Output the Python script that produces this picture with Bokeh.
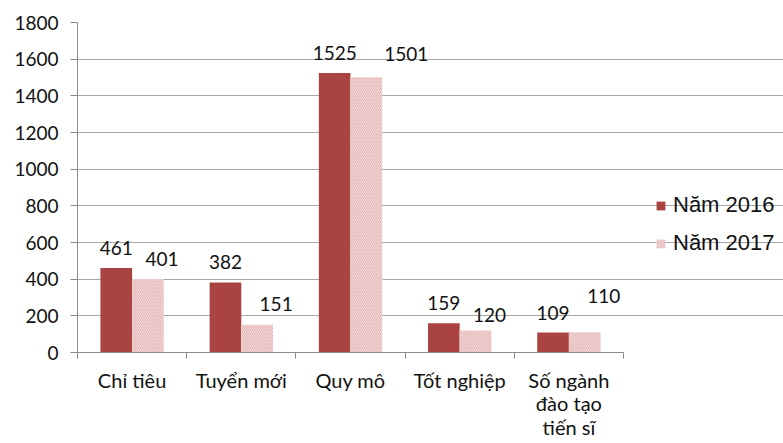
import numpy as np
from bokeh.plotting import figure
from bokeh.models import ColumnDataSource, LabelSet, Legend, LegendItem, FixedTicker, Range1d
from bokeh.transform import dodge
from bokeh.core.properties import value
from bokeh.embed import file_html
from bokeh.resources import INLINE

categories = ["Chỉ tiêu", "Tuyển mới", "Quy mô", "Tốt nghiệp", "Số ngành\nđào tạo\ntiến sĩ"]
values_2016 = [461, 382, 1525, 159, 109]
values_2017 = [401, 151, 1501, 120, 110]
series_names = ["Năm 2016", "Năm 2017"]
y_ticks = [0, 200, 400, 600, 800, 1000, 1200, 1400, 1600, 1800]
# pixel nudges of the 2017 value labels, as placed in the original
label_dx_2017 = [14, 19, 40, 14, 19]
label_dy_2017 = [20, 21, 23, 16, 36]

n = len(categories)
x = np.arange(n) + 0.5
src = ColumnDataSource(dict(x=x, v16=values_2016, v17=values_2017,
                            t16=[str(v) for v in values_2016],
                            t17=[str(v) for v in values_2017],
                            dx16=[0] * n, dy16=[20] * n,
                            dx17=label_dx_2017, dy17=label_dy_2017))

W, H = 783, 443
left, top, bottom = 77, 22, 91
plot_px = 546  # pixel width of the category area
frame_px = W - left
p = figure(width=W, height=H, output_backend="svg", toolbar_location=None,
           x_range=Range1d(0, n * frame_px / plot_px), y_range=Range1d(0, 1800),
           min_border_left=left, min_border_right=0, min_border_top=top, min_border_bottom=bottom)
p.outline_line_color = None
p.background_fill_color = "white"

bw = 0.29
r16 = p.vbar(x=dodge("x", -bw / 2, range=p.x_range), top="v16", width=bw, source=src,
             fill_color="#A94442", line_color=None)
r17 = p.vbar(x=dodge("x", bw / 2, range=p.x_range), top="v17", width=bw, source=src,
             fill_color="white", line_color=None, hatch_pattern="\\", hatch_color="#DFA3A3",
             hatch_scale=3.5, hatch_weight=1)

lab_font = "Lato"
for col, t, dx, dy, off in (("v16", "t16", "dx16", "dy16", -bw / 2),
                            ("v17", "t17", "dx17", "dy17", bw / 2)):
    p.add_layout(LabelSet(x=dodge("x", off, range=p.x_range), y=col, text=t, source=src,
                          x_offset=dx, y_offset=dy, text_align="center", text_baseline="middle",
                          text_font=value(lab_font), text_font_size=value("19px"),
                          text_color="#111111"))

# axes
p.yaxis.ticker = FixedTicker(ticks=y_ticks)
p.yaxis.axis_line_color = "#8c8c8c"
p.yaxis.major_tick_line_color = "#8c8c8c"
p.yaxis.major_tick_out = 7
p.yaxis.major_tick_in = 0
p.yaxis.minor_tick_line_color = None
p.yaxis.major_label_text_font = lab_font
p.yaxis.major_label_text_font_size = "19px"
p.yaxis.major_label_text_color = "#111111"
p.yaxis.major_label_standoff = 12

bounds = list(np.arange(n + 1).astype(float))
p.xaxis.bounds = (0, n)
p.xaxis.ticker = FixedTicker(ticks=list(x), minor_ticks=bounds)
p.xaxis.major_label_overrides = {float(xi): c for xi, c in zip(x, categories)}
p.xaxis.axis_line_color = "#8c8c8c"
p.xaxis.major_tick_line_color = None
p.xaxis.minor_tick_line_color = "#8c8c8c"
p.xaxis.minor_tick_out = 6
p.xaxis.minor_tick_in = 0
p.xaxis.major_label_text_font = lab_font
p.xaxis.major_label_text_font_size = "20px"
p.xaxis.major_label_text_color = "#111111"
p.xaxis.major_label_standoff = 9
p.xaxis.major_label_text_line_height = 0.98

p.xgrid.grid_line_color = None
p.ygrid.grid_line_color = "#a6a6a6"
p.ygrid.grid_line_width = 1
p.ygrid.bounds = (0, n)

legend = Legend(items=[LegendItem(label=series_names[0], renderers=[r16]),
                       LegendItem(label=series_names[1], renderers=[r17])],
                location=(578, 96), orientation="vertical")
legend.border_line_color = None
legend.background_fill_alpha = 0
legend.padding = 0
legend.margin = 0
legend.glyph_width = 11
legend.glyph_height = 11
legend.label_height = 11
legend.spacing = 12
legend.label_standoff = 7
legend.label_text_font = "Liberation Sans"
legend.label_text_font_size = "22px"
legend.label_text_color = "#111111"
p.add_layout(legend)

open("out.html", "w").write(file_html(p, INLINE))
